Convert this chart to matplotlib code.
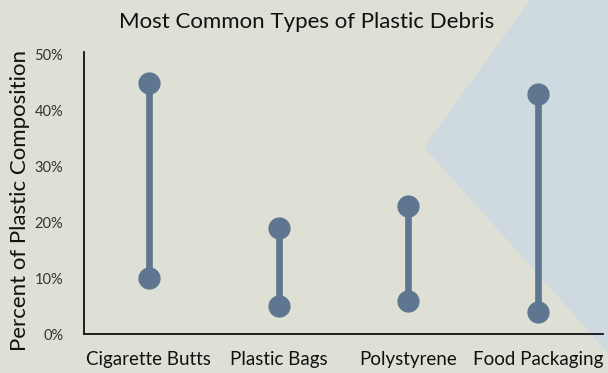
import matplotlib
matplotlib.use("Agg")
from matplotlib import pyplot as plt
from matplotlib.patches import Polygon

categories = ["Cigarette Butts", "Plastic Bags", "Polystyrene", "Food Packaging"]
low_vals = [10, 5, 6, 4]
high_vals = [45, 19, 23, 43]
yticks = [0, 10, 20, 30, 40, 50]

plt.rcParams['font.family'] = ['Lato', 'DejaVu Sans']

bg = "#dfe0d5"
tri = "#cfdae0"
dot = "#5f7690"

W, H = 608, 373
fig = plt.figure(figsize=(W / 100, H / 100), dpi=100, facecolor=bg)

# pale blue triangle in the background (pixel coords of figure)
pts = [(530, 0), (608, 0), (608, 353), (424, 147)]
pts = [(x / W, 1 - y / H) for x, y in pts]
fig.patches.append(Polygon(pts, closed=True, transform=fig.transFigure,
                           facecolor=tri, edgecolor="none", zorder=-5))

ax = fig.add_axes([84 / W, (H - 334) / H, (603 - 84) / W, (334 - 55) / H])
ax.set_facecolor("none")
ax.set_zorder(2)

x = range(len(categories))
ax.vlines(x, low_vals, high_vals, color=dot, linewidth=4.8, zorder=2)
ax.plot(x, low_vals, "o", color=dot, markersize=15, zorder=3)
ax.plot(x, high_vals, "o", color=dot, markersize=15, zorder=3)

ax.set_xlim(-0.5, 3.5)
ax.set_ylim(0, 50)
ax.set_yticks(yticks)
ax.set_yticklabels([f"{v}%" for v in yticks], color="#333333", fontsize=10.5)
ax.set_xticks(list(x))
ax.set_xticklabels(categories, fontsize=13.5, color="#111111")
ax.tick_params(axis="both", length=0)
ax.tick_params(axis="y", pad=15)
ax.tick_params(axis="x", pad=12)

for s in ["top", "right"]:
    ax.spines[s].set_visible(False)
for s in ["left", "bottom"]:
    ax.spines[s].set_linewidth(1.3)
    ax.spines[s].set_color("#111111")
ax.spines["left"].set_bounds(0, 50.5)

ax.set_ylabel("Percent of Plastic Composition", fontsize=16, color="#111111")
ax.yaxis.set_label_coords(-0.105, 0.48)
fig.text(307 / W, 1 - 22 / H, "Most Common Types of Plastic Debris",
         ha="center", va="center", fontsize=16, color="#111111")

fig.savefig("out.png", dpi=100, facecolor=bg)
